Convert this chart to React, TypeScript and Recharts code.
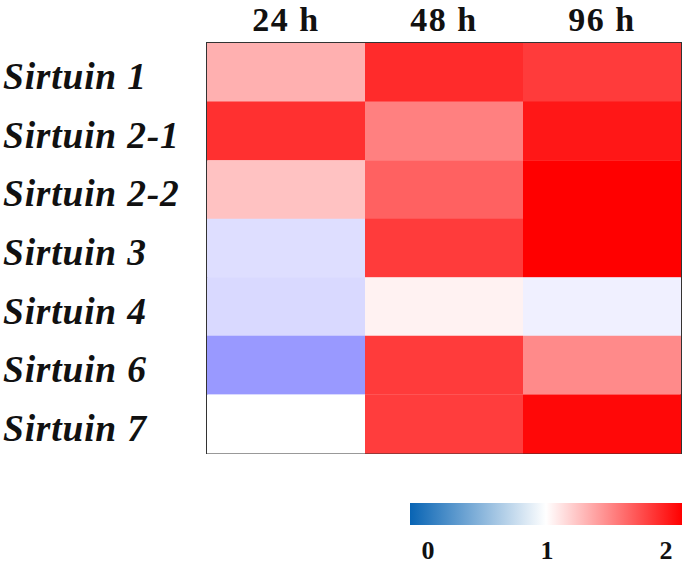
import React from "react";
import { BarChart, Bar, XAxis, YAxis, Cell, ReferenceArea } from "recharts";

const genes = ["Sirtuin 1", "Sirtuin 2-1", "Sirtuin 2-2", "Sirtuin 3", "Sirtuin 4", "Sirtuin 6", "Sirtuin 7"];
const timePoints = ["24 h", "48 h", "96 h"];
const values24h = [1.31, 1.81, 1.24, 0.87, 0.85, 0.6, 1.0];
const values48h = [1.83, 1.5, 1.62, 1.77, 1.05, 1.77, 1.76];
const values96h = [1.77, 1.91, 2.0, 2.0, 0.94, 1.46, 1.97];
const scaleTicks = [0, 1, 2];

const seriesValues = [values24h, values48h, values96h];

const rows = genes.map((name, i) => ({
  name,
  s0: 1,
  s1: 1,
  s2: 1,
  v0: values24h[i],
  v1: values48h[i],
  v2: values96h[i],
}));

function colorFor(v: number): string {
  if (v >= 1) {
    const g = Math.round(255 * Math.max(0, 2 - v));
    return `rgb(255,${g},${g})`;
  }
  const c = Math.round(255 * Math.max(0, v));
  return `rgb(${c},${c},255)`;
}

const FONT = '"Liberation Serif", "Times New Roman", serif';

const RowTick = (props: any) => {
  const { y, payload } = props;
  return (
    <text x={3} y={y + 17} fontFamily={FONT} fontWeight="bold" fontStyle="italic" fontSize={37.5} letterSpacing={0.8} fill="#111" textAnchor="start">
      {payload.value}
    </text>
  );
};

const ColTick = (props: any) => {
  const { x, payload } = props;
  const idx = Math.floor(payload.value);
  return (
    <text x={x} y={31} fontFamily={FONT} fontWeight="bold" fontSize={34} letterSpacing={1.5} fill="#111" textAnchor="middle">
      {timePoints[idx]}
    </text>
  );
};

export default function App() {
  const barLeft = 410;
  const barWidth = 272;
  const tickX = (v: number) => 428 + v * 119;
  return (
    <div style={{ position: "absolute", left: 0, top: 0, width: 685, height: 566, background: "#fff" }}>
      <BarChart
        width={685}
        height={566}
        data={rows}
        layout="vertical"
        barCategoryGap={0}
        margin={{ top: 0, right: 4, bottom: 113, left: 0 }}
      >
        <XAxis
          type="number"
          orientation="top"
          domain={[0, 3]}
          ticks={[0.5, 1.5, 2.5]}
          height={43}
          axisLine={false}
          tickLine={false}
          tick={<ColTick />}
          allowDecimals
        />
        <YAxis type="category" dataKey="name" width={207} axisLine={false} tickLine={false} tick={<RowTick />} />
        {[0, 1, 2].map((k) => (
          <Bar key={k} dataKey={`s${k}`} stackId="a" isAnimationActive={false}>
            {rows.map((_, i) => (
              <Cell key={i} fill={colorFor(seriesValues[k][i])} stroke="none" />
            ))}
          </Bar>
        ))}
        <ReferenceArea x1={0} x2={3} fill="none" stroke="#333" strokeWidth={2} ifOverflow="visible" />
      </BarChart>
      <svg width={685} height={566} style={{ position: "absolute", left: 0, top: 0, pointerEvents: "none" }}>
        <defs>
          <linearGradient id="cbar" x1="0" x2="1" y1="0" y2="0">
            <stop offset="0" stopColor="rgb(8,100,180)" />
            <stop offset="0.5" stopColor="#ffffff" />
            <stop offset="1" stopColor="rgb(255,0,0)" />
          </linearGradient>
        </defs>
        <rect x={barLeft} y={503} width={barWidth} height={22} fill="url(#cbar)" />
        {scaleTicks.map((t) => (
          <text key={t} x={tickX(t)} y={559} fontFamily={FONT} fontWeight="bold" fontSize={26} fill="#111" textAnchor="middle">
            {t}
          </text>
        ))}
      </svg>
    </div>
  );
}
